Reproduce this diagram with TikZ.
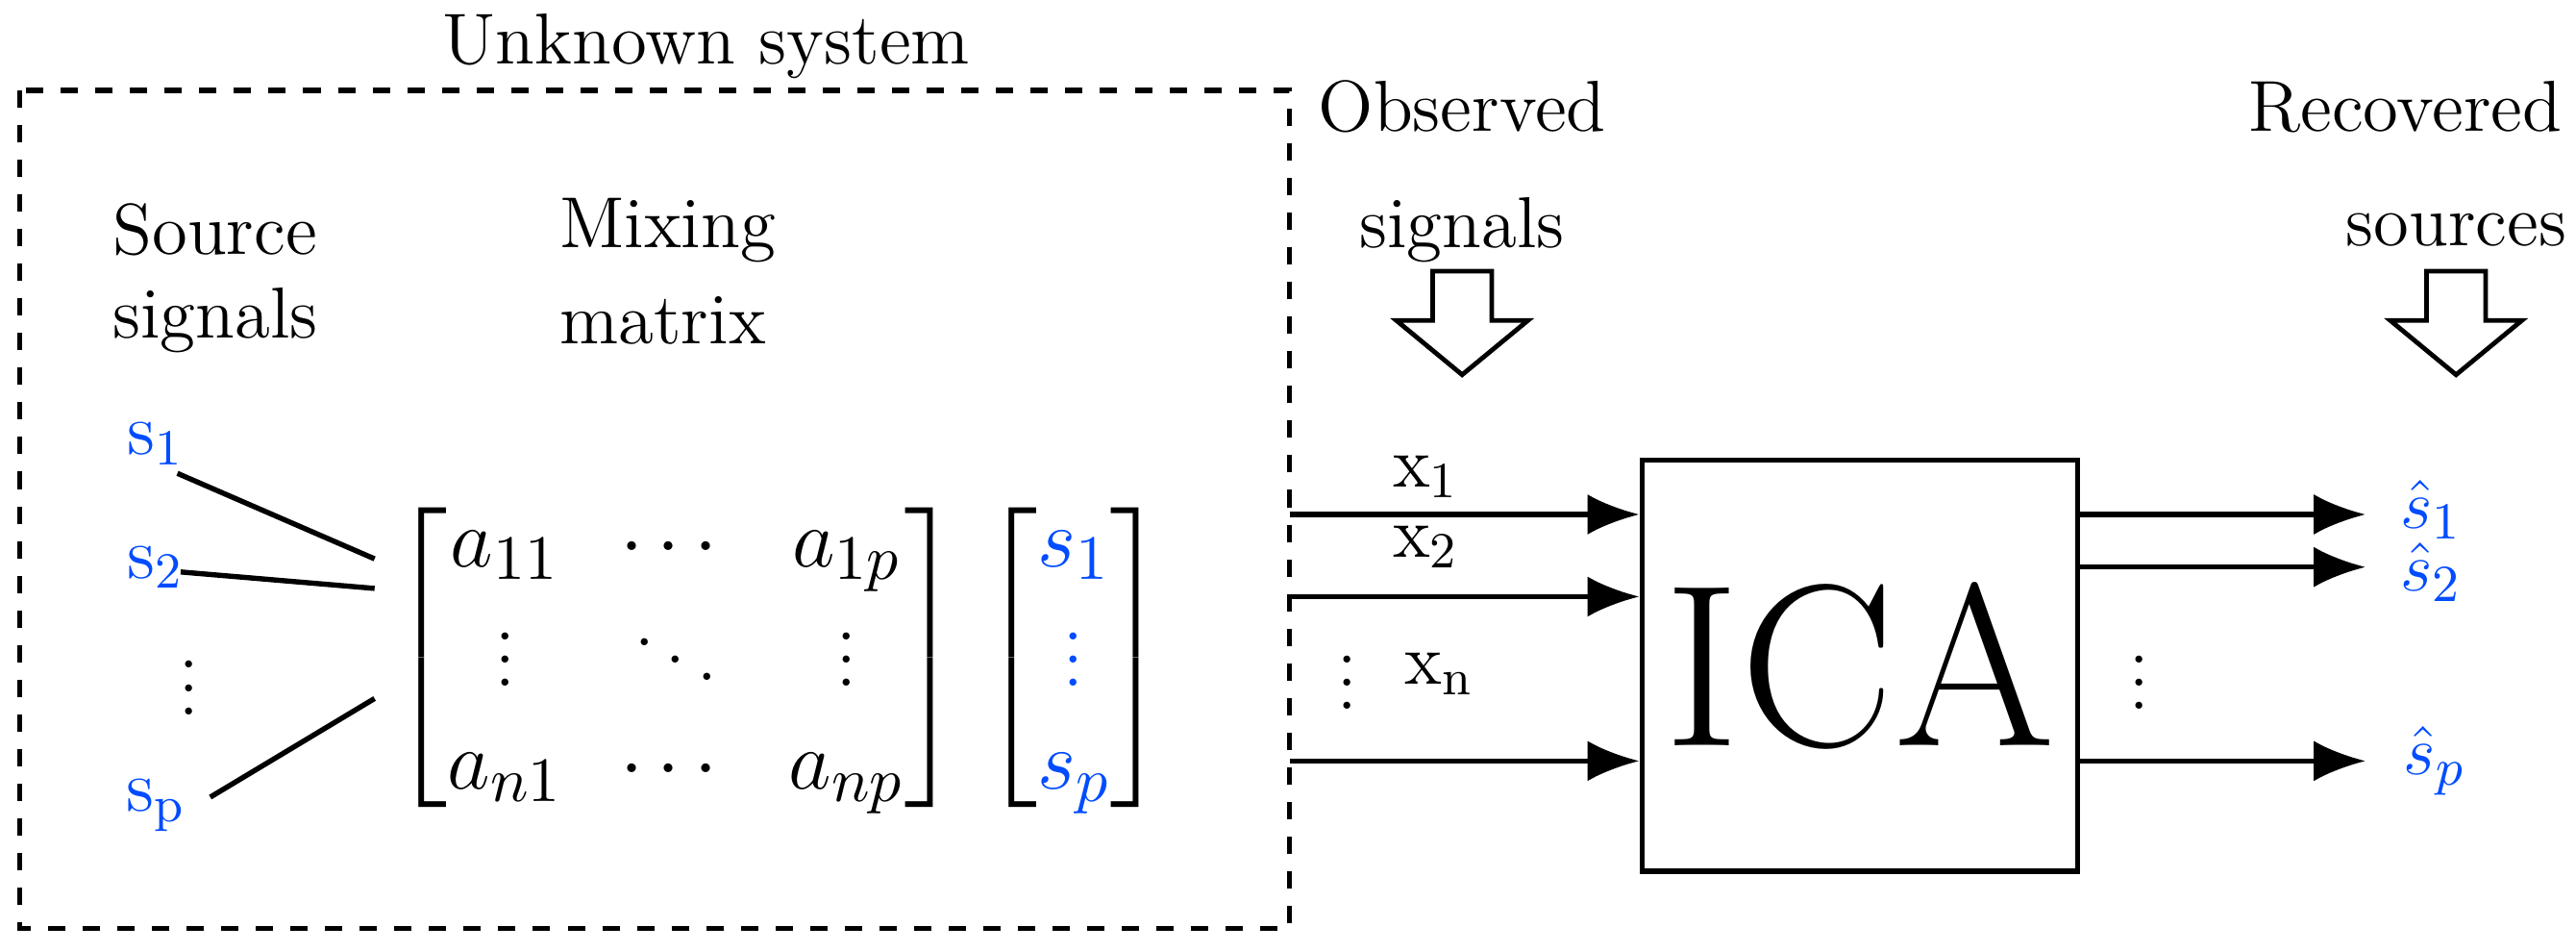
\documentclass[tikz,border=0pt]{standalone}
\usepackage{amsmath}
\usetikzlibrary{arrows.meta}
\begin{document}
\begin{tikzpicture}[x=0.1mm,y=-0.1mm,
  txt/.style={font=\fontsize{12.5}{14}\selectfont,inner sep=0pt},
  blu/.style={text=blue!70!cyan,font=\fontsize{12.5}{14}\selectfont,inner sep=0pt},
  arr/.style={-{Latex[length=9pt,width=7pt]},line width=0.9pt},
  hollow/.style={draw,line width=0.8pt,fill=white}]
\useasboundingbox (0,0) rectangle (1568,579);
\draw[dashed,line width=0.9pt] (12,55) rectangle (785,565);
\node[txt] (unk) at (430,28) {Unknown system};
\node[txt,anchor=west] (src) at (68,140) {Source};
\node[txt,anchor=west] (srcb) at (68,195) {signals};
\node[txt,anchor=west] (mix) at (340,140) {Mixing};
\node[txt,anchor=west] (mixb) at (340,195) {matrix};
\node[blu] (s1) at (95,270) {s\textsubscript{1}};
\node[blu] (s2) at (95,345) {s\textsubscript{2}};
\node[txt] (sd) at (115,408) {$\vdots$};
\node[blu] (sp) at (95,490) {s\textsubscript{p}};
\coordinate (m1) at (228,340);
\coordinate (m2) at (228,358);
\coordinate (m3) at (228,425);
\draw[line width=0.9pt] (108,288) -- (m1);
\draw[line width=0.9pt] (110,348) -- (m2);
\draw[line width=0.9pt] (128,485) -- (m3);
\node[inner sep=0pt,font=\fontsize{15}{17}\selectfont,anchor=east] (mat) at (585,400)
 {$\renewcommand{\arraystretch}{1.05}\left[\begin{matrix}a_{11} & \cdots & a_{1p}\\ \vdots & \ddots & \vdots\\ a_{n1} & \cdots & a_{np}\end{matrix}\right]$};
\node[inner sep=0pt,font=\fontsize{15}{17}\selectfont,anchor=west] (vec) at ([xshift=1.2mm]mat.east)
 {$\renewcommand{\arraystretch}{1.05}\left[\begin{matrix}\color{blue!70!cyan}s_1\\ \color{blue!70!cyan}\vdots\\ \color{blue!70!cyan}s_p\end{matrix}\right]$};
\node[txt] (obs) at (890,65) {Observed};
\node[txt] (obsb) at (890,140) {signals};
\node[txt,anchor=east] (rec) at (1560,65) {Recovered};
\node[txt] (recb) at (1495,140) {sources};
\foreach \cx in {890,1495}{
 \draw[hollow] (\cx-18,165) -- (\cx+18,165) -- (\cx+18,195) -- (\cx+40,195) -- (\cx,228) -- (\cx-40,195) -- (\cx-18,195) -- cycle;}
\node[draw,line width=0.9pt,minimum width=26.5mm,minimum height=25mm,font=\fontsize{40}{44}\selectfont] (ica) at (1132,405) {ICA};
\coordinate (i1) at (785,313); \coordinate (i2) at (785,363); \coordinate (i3) at (785,463);
\draw[arr] (i1) -- (ica.west |- i1);
\draw[arr] (i2) -- (ica.west |- i2);
\draw[arr] (i3) -- (ica.west |- i3);
\node[txt] (x1) at (868,290) {x\textsubscript{1}};
\node[txt] (x2) at (868,333) {x\textsubscript{2}};
\node[txt] (xd) at (820,405) {$\vdots$};
\node[txt] (xn) at (876,410) {x\textsubscript{n}};
\coordinate (o1) at (1440,313); \coordinate (o2) at (1440,345); \coordinate (o3) at (1440,463);
\draw[arr] (ica.east |- o1) -- (o1);
\draw[arr] (ica.east |- o2) -- (o2);
\draw[arr] (ica.east |- o3) -- (o3);
\node[blu] (h1) at (1480,310) {$\hat{s}_1$};
\node[blu] (h2) at (1480,348) {$\hat{s}_2$};
\node[txt] (hd) at (1302,405) {$\vdots$};
\node[blu] (hp) at (1482,463) {$\hat{s}_p$};
\end{tikzpicture}
\end{document}
